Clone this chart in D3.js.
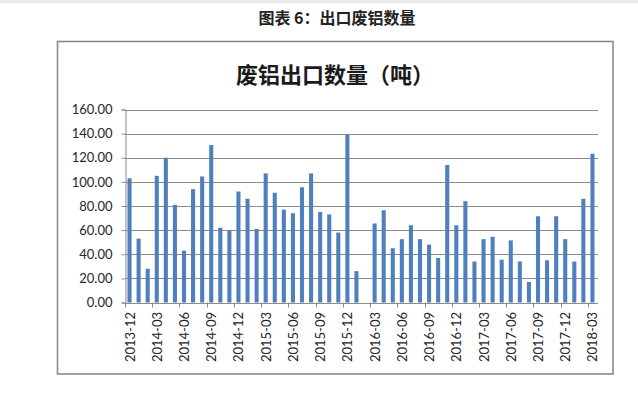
<!DOCTYPE html>
<html>
<head>
<meta charset="utf-8">
<script src="https://cdn.jsdelivr.net/npm/d3@7/dist/d3.min.js"></script>
<style>
  html, body { margin: 0; padding: 0; background: #fff; }
  svg { display: block; }
</style>
</head>
<body>
<svg id="chart" width="638" height="394"></svg>
<script>
const months = [
  "2013-12","2014-01","2014-02","2014-03","2014-04","2014-05","2014-06","2014-07","2014-08","2014-09","2014-10","2014-11",
  "2014-12","2015-01","2015-02","2015-03","2015-04","2015-05","2015-06","2015-07","2015-08","2015-09","2015-10","2015-11",
  "2015-12","2016-01","2016-02","2016-03","2016-04","2016-05","2016-06","2016-07","2016-08","2016-09","2016-10","2016-11",
  "2016-12","2017-01","2017-02","2017-03","2017-04","2017-05","2017-06","2017-07","2017-08","2017-09","2017-10","2017-11",
  "2017-12","2018-01","2018-02","2018-03"
];
const exportTons = [
  103, 53, 28, 105, 120, 81, 43, 94, 104.5, 130.5, 62, 60,
  92, 86, 61, 107, 91, 77, 74, 95.5, 107, 75, 73, 58,
  139.3, 26, null, 65.5, 76.5, 45, 52.5, 64, 52.5, 48, 37, 114,
  64, 84, 34, 52.5, 54.5, 35.5, 51.5, 34, 17, 71.5, 35, 71.5,
  52.5, 34, 86, 123.3
];
const yTicks = [0, 20, 40, 60, 80, 100, 120, 140, 160];
const xTickLabels = months.filter((d, i) => i % 3 === 0);
const pageTitle = "图表 6：出口废铝数量";
const chartTitle = "废铝出口数量（吨）";

const svg = d3.select("#chart");
const cjk = "'Noto Sans CJK SC', 'Noto Sans', sans-serif";
const latin = "Lato, 'Liberation Sans', Arial, sans-serif";

svg.append("rect").attr("x", 0).attr("y", 0).attr("width", 638).attr("height", 3).attr("fill", "#ececec");

svg.append("text")
  .attr("x", 337).attr("y", 17)
  .attr("text-anchor", "middle").attr("dominant-baseline", "central")
  .attr("font-family", cjk).attr("font-weight", "bold").attr("font-size", 16)
  .attr("fill", "#222")
  .text(pageTitle);

svg.append("rect")
  .attr("x", 57.5).attr("y", 41.5).attr("width", 555.5).attr("height", 332.5)
  .attr("fill", "#fff").attr("stroke", "#8a8a8a").attr("stroke-width", 1.6);

svg.append("text")
  .attr("x", 335).attr("y", 73)
  .attr("text-anchor", "middle").attr("dominant-baseline", "central")
  .attr("font-family", cjk).attr("font-weight", "bold").attr("font-size", 22)
  .attr("fill", "#1a1a1a")
  .text(chartTitle);

const x0 = 125, x1 = 597, yTop = 109.5, yBot = 302.5;
const x = d3.scaleBand().domain(months).range([x0, x1]).paddingInner(0.55).paddingOuter(0.275);
const y = d3.scaleLinear().domain([0, 160]).range([yBot, yTop]);
const step = x.step();

svg.append("g").selectAll("line").data(yTicks.filter(d => d > 0)).join("line")
  .attr("x1", x0).attr("x2", x1 + 1)
  .attr("y1", d => Math.round(y(d)) + 0.5).attr("y2", d => Math.round(y(d)) + 0.5)
  .attr("stroke", "#8c8c8c").attr("stroke-width", 1);

const yAxis = d3.axisLeft(y).tickValues(yTicks).tickSize(4).tickPadding(9).tickFormat(d3.format(".2f"));
const gy = svg.append("g").attr("transform", `translate(${x0 + 0.5},0)`).call(yAxis);
gy.select(".domain").attr("stroke", "#8c8c8c");
gy.selectAll(".tick line").attr("stroke", "#8c8c8c");
gy.selectAll(".tick text").attr("font-family", latin).attr("font-size", 13).attr("fill", "#262626");

svg.append("g").selectAll("rect")
  .data(months.map((m, i) => ({ m, v: exportTons[i] })).filter(d => d.v != null))
  .join("rect")
  .attr("x", d => x(d.m)).attr("width", x.bandwidth())
  .attr("y", d => y(d.v)).attr("height", d => y(0) - y(d.v))
  .attr("fill", "#4f80bb");

svg.append("line").attr("x1", x0).attr("x2", x1 + 1)
  .attr("y1", Math.round(y(0)) + 0.5).attr("y2", Math.round(y(0)) + 0.5)
  .attr("stroke", "#8c8c8c");

const tickPos = xTickLabels.map(m => x(m) - step * x.paddingInner() / 2);
svg.append("g").selectAll("line").data(tickPos).join("line")
  .attr("x1", d => Math.round(d) + 0.5).attr("x2", d => Math.round(d) + 0.5)
  .attr("y1", y(0)).attr("y2", y(0) + 5)
  .attr("stroke", "#8c8c8c");

svg.append("g").selectAll("text").data(xTickLabels).join("text")
  .attr("transform", m => `translate(${x(m) + x.bandwidth() / 2},312) rotate(-90)`)
  .attr("text-anchor", "end").attr("dominant-baseline", "central")
  .attr("font-family", latin).attr("font-size", 13).attr("fill", "#262626")
  .text(m => m);
</script>
</body>
</html>
